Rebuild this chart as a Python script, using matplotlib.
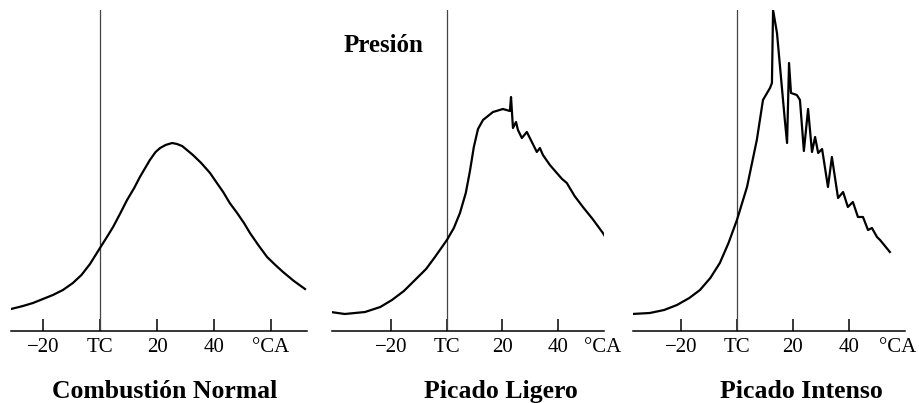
"""
Curvas de presión en cámara: combustión normal, picado ligero y picado intenso
"""
import matplotlib
matplotlib.use("Agg")
import matplotlib.pyplot as plt

plt.rcParams['font.family'] = ['Liberation Serif', 'DejaVu Serif']

# Combustión normal (grados de cigüeñal, presión en unidades arbitrarias)
normal_ca = [-31.2, -27.0, -23.5, -20.0, -16.5, -13.0, -9.5, -6.5, -3.5, 0.0,
             2.0, 4.6, 7.0, 9.5, 12.0, 14.0, 17.5, 19.5, 21.1, 23.0, 25.3, 27.0,
             28.8, 30.5, 32.6, 35.5, 38.6, 41.0, 43.2, 45.5, 48.1, 50.5, 52.6,
             55.5, 58.6, 61.5, 64.2, 68.0, 71.9]
normal_p = [22, 25, 28, 32, 36, 41, 48, 56, 67, 83,
            92, 104, 117, 131, 143, 154, 171, 179, 183, 186, 188, 187,
            185, 181, 176, 168, 158, 148, 139, 128, 118, 108, 98,
            86, 74, 66, 59, 50, 42]

# Picado ligero
ligero_ca = [-41.8, -36.8, -29.5, -24.0, -19.8, -15.5, -11.5, -7.5, -4.3, 0.0,
             2.5, 4.7, 6.8, 8.3, 9.7, 11.2, 13.0, 16.6, 20.2, 22.7, 23.1, 23.8,
             24.9, 25.6, 27.0, 28.8, 30.6, 32.4, 33.5, 34.6, 37.1, 39.6, 41.5,
             43.2, 46.0, 49.0, 52.5, 56.2, 59.5, 62.3]
ligero_p = [19, 17, 19, 24, 31, 40, 51, 62, 74, 91,
            103, 118, 138, 160, 184, 202, 211, 219, 222, 220, 234, 203,
            209, 201, 193, 199, 189, 179, 183, 176, 166, 158, 152,
            148, 135, 124, 112, 98, 83, 69]

# Picado intenso
intenso_ca = [-37.5, -31.1, -26.0, -21.4, -17.0, -13.2, -9.5, -6.1, -3.0, 0.0,
              3.6, 7.1, 9.3, 11.8, 12.5, 12.9, 14.3, 17.1, 17.9, 18.6, 19.3,
              21.4, 22.5, 23.9, 25.4, 26.8, 27.9, 29.0, 30.4, 32.5, 33.9, 36.1,
              37.9, 39.6, 41.4, 43.2, 45.0, 46.8, 48.2, 50.0, 51.1, 54.6]
intenso_p = [17, 18, 21, 26, 33, 41, 53, 68, 88, 111,
             144, 191, 231, 243, 248, 321, 298, 211, 188, 268, 238,
             236, 231, 180, 222, 179, 194, 178, 182, 144, 174, 133,
             139, 124, 129, 114, 114, 101, 103, 94, 91, 79]

ticks = [-20, 0, 20, 40]
tick_labels = ['\u221220', 'TC', '20', '40']
titles = ['Combustión Normal', 'Picado Ligero', 'Picado Intenso']

W, H = 919, 403
fig = plt.figure(figsize=(W / 100, H / 100), dpi=100)

# posiciones de cada panel en píxeles: (izq, der, xlim)
paneles = [
    (11, 307, (-31.2, 72.6)),
    (332, 604, (-41.4, 56.6)),
    (633, 905, (-37.1, 60.0)),
]
datos = [(normal_ca, normal_p), (ligero_ca, ligero_p), (intenso_ca, intenso_p)]
title_x = [22.8, 19.5, 22.9]
ca_x = [59.3, 56.2, 57.5]

axis_y, top_y = 331, 10
for i, ((x0, x1, xlim), (ca, p)) in enumerate(zip(paneles, datos)):
    ax = fig.add_axes([x0 / W, (H - axis_y) / H, (x1 - x0) / W, (axis_y - top_y) / H])
    ax.set_xlim(*xlim)
    ax.set_ylim(0, axis_y - top_y)
    for s in ['top', 'right', 'left']:
        ax.spines[s].set_visible(False)
    ax.spines['bottom'].set_linewidth(1.1)
    ax.set_yticks([])

    ax.axvline(0, color='#444444', lw=0.9)
    ax.plot(ca, p, color='black', lw=1.6, solid_joinstyle='round')

    if i == 0:
        ax.set_xticks(ticks + [60])
        ax.set_xticklabels(tick_labels + ['°CA'])
    else:
        ax.set_xticks(ticks)
        ax.set_xticklabels(tick_labels)
        ax.annotate('°CA', xy=(ca_x[i], 0), xycoords=ax.get_xaxis_transform(),
                    xytext=(0, -5), textcoords='offset points',
                    ha='center', va='top', fontsize=15, annotation_clip=False)
    ax.tick_params(axis='x', direction='in', length=8.6, width=1.1,
                   labelsize=15, pad=5)

    ax.text(title_x[i], -0.209, titles[i], transform=ax.get_xaxis_transform(),
            ha='center', va='baseline', fontsize=18.5, fontweight='bold')

    if i == 1:
        ax.text(-22.7, 279, 'Presión', ha='center', va='baseline',
                fontsize=18, fontweight='bold')

fig.savefig('out.png', dpi=100, facecolor='white')
plt.close()
